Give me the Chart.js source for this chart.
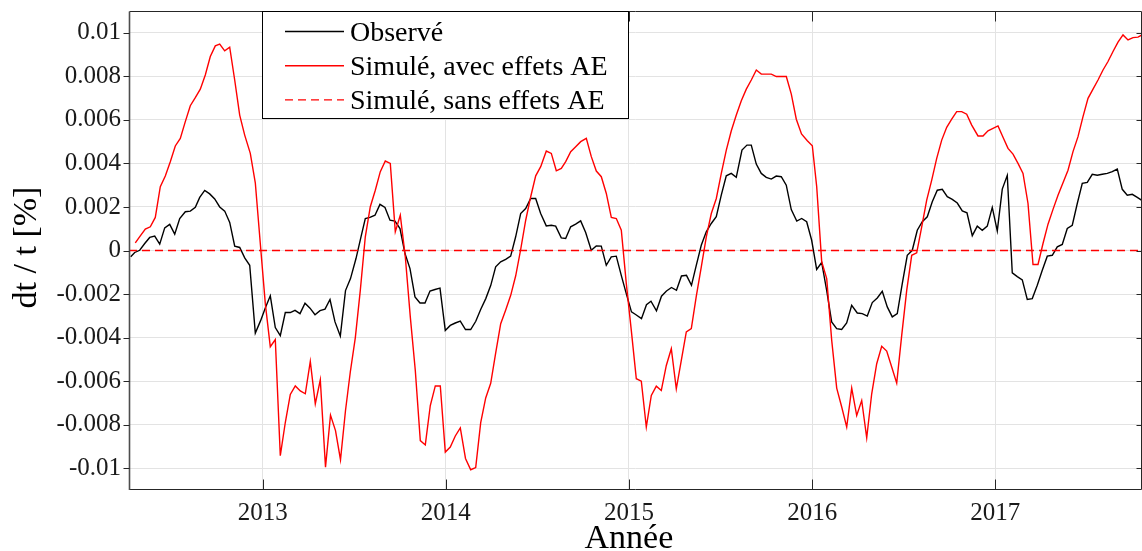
<!DOCTYPE html>
<html lang="fr">
<head>
<meta charset="utf-8">
<title>dt / t</title>
<script src="https://cdn.jsdelivr.net/npm/chart.js@4.4.1/dist/chart.umd.min.js"></script>
<style>
  html, body { margin: 0; padding: 0; background: #ffffff; }
  canvas { display: block; }
</style>
</head>
<body>
<canvas id="dtChart" width="1142" height="551"></canvas>
<script>
// Dates en années décimales, valeurs de dt/t en %
const obsDates = [
  2012.2793, 2012.3012, 2012.3285, 2012.3558, 2012.3831, 2012.4104, 2012.4377, 2012.4650, 2012.4923, 2012.5196,
  2012.5469, 2012.5775, 2012.6048, 2012.6321, 2012.6561, 2012.6834, 2012.7107, 2012.7380, 2012.7653, 2012.7926,
  2012.8199, 2012.8472, 2012.8745, 2012.9018, 2012.9291, 2012.9597, 2012.9891, 2013.0142, 2013.0415, 2013.0688,
  2013.0961, 2013.1234, 2013.1507, 2013.1764, 2013.2037, 2013.2310, 2013.2583, 2013.2856, 2013.3129, 2013.3402,
  2013.3675, 2013.3948, 2013.4237, 2013.4521, 2013.4794, 2013.5094, 2013.5367, 2013.5602, 2013.5858, 2013.6131,
  2013.6404, 2013.6677, 2013.6950, 2013.7223, 2013.7496, 2013.7769, 2013.8042, 2013.8315, 2013.8588, 2013.8861,
  2013.9134, 2013.9407, 2013.9680, 2013.9969, 2014.0242, 2014.0515, 2014.0788, 2014.1072, 2014.1356, 2014.1634,
  2014.1907, 2014.2180, 2014.2453, 2014.2720, 2014.2993, 2014.3266, 2014.3539, 2014.3812, 2014.4085, 2014.4358,
  2014.4631, 2014.4904, 2014.5177, 2014.5483, 2014.5756, 2014.5996, 2014.6302, 2014.6542, 2014.6815, 2014.7088,
  2014.7361, 2014.7634, 2014.7940, 2014.8213, 2014.8486, 2014.8759, 2014.9032, 2014.9305, 2014.9578, 2014.9851,
  2015.0135, 2015.0381, 2015.0681, 2015.0954, 2015.1200, 2015.1500, 2015.1773, 2015.2046, 2015.2319, 2015.2592,
  2015.2865, 2015.3138, 2015.3411, 2015.3673, 2015.3946, 2015.4219, 2015.4492, 2015.4765, 2015.5038, 2015.5311,
  2015.5584, 2015.5857, 2015.6168, 2015.6441, 2015.6676, 2015.6949, 2015.7222, 2015.7495, 2015.7768, 2015.8041,
  2015.8314, 2015.8587, 2015.8860, 2015.9160, 2015.9428, 2015.9701, 2015.9974, 2016.0247, 2016.0520, 2016.0793,
  2016.1066, 2016.1339, 2016.1612, 2016.1885, 2016.2158, 2016.2464, 2016.2737, 2016.3010, 2016.3283, 2016.3556,
  2016.3829, 2016.4102, 2016.4375, 2016.4648, 2016.4921, 2016.5194, 2016.5467, 2016.5740, 2016.6013, 2016.6286,
  2016.6559, 2016.6832, 2016.7105, 2016.7378, 2016.7651, 2016.7924, 2016.8197, 2016.8454, 2016.8743, 2016.9016,
  2016.9289, 2016.9562, 2016.9835, 2017.0108, 2017.0381, 2017.0654, 2017.0927, 2017.1200, 2017.1473, 2017.1746,
  2017.2019, 2017.2292, 2017.2565, 2017.2838, 2017.3111, 2017.3384, 2017.3657, 2017.3930, 2017.4203, 2017.4476,
  2017.4749, 2017.5022, 2017.5295, 2017.5568, 2017.5841, 2017.6114, 2017.6387, 2017.6660, 2017.6933, 2017.7206,
  2017.7479, 2017.7752, 2017.7981
];
const obsValues = [
  -0.00029, -0.00009, 0.00001, 0.00032, 0.00060, 0.00066, 0.00029, 0.00104, 0.00120, 0.00075,
  0.00147, 0.00178, 0.00181, 0.00198, 0.00244, 0.00276, 0.00260, 0.00237, 0.00200, 0.00181,
  0.00129, 0.00020, 0.00014, -0.00034, -0.00068, -0.00379, -0.00321, -0.00264, -0.00208, -0.00354,
  -0.00391, -0.00285, -0.00285, -0.00275, -0.00290, -0.00242, -0.00265, -0.00295, -0.00276, -0.00269,
  -0.00225, -0.00328, -0.00393, -0.00184, -0.00129, -0.00037, 0.00063, 0.00147, 0.00152, 0.00162,
  0.00212, 0.00198, 0.00139, 0.00135, 0.00101, -0.00014, -0.00083, -0.00213, -0.00241, -0.00241,
  -0.00186, -0.00179, -0.00173, -0.00367, -0.00344, -0.00333, -0.00324, -0.00363, -0.00363, -0.00325,
  -0.00270, -0.00221, -0.00160, -0.00075, -0.00052, -0.00041, -0.00026, 0.00063, 0.00170, 0.00193,
  0.00239, 0.00239, 0.00170, 0.00113, 0.00116, 0.00112, 0.00058, 0.00055, 0.00109, 0.00121,
  0.00136, 0.00083, 0.00001, 0.00021, 0.00020, -0.00068, -0.00029, -0.00026, -0.00114, -0.00198,
  -0.00282, -0.00295, -0.00313, -0.00249, -0.00233, -0.00277, -0.00210, -0.00186, -0.00170, -0.00183,
  -0.00117, -0.00114, -0.00160, -0.00068, 0.00024, 0.00086, 0.00124, 0.00155, 0.00254, 0.00343,
  0.00354, 0.00336, 0.00461, 0.00484, 0.00484, 0.00397, 0.00354, 0.00336, 0.00328, 0.00342,
  0.00339, 0.00300, 0.00188, 0.00135, 0.00147, 0.00132, 0.00047, -0.00087, -0.00055, -0.00183,
  -0.00328, -0.00359, -0.00363, -0.00333, -0.00252, -0.00287, -0.00290, -0.00301, -0.00239, -0.00218,
  -0.00187, -0.00259, -0.00305, -0.00290, -0.00152, -0.00022, 0.00001, 0.00093, 0.00132, 0.00155,
  0.00224, 0.00277, 0.00281, 0.00247, 0.00235, 0.00218, 0.00182, 0.00173, 0.00068, 0.00112,
  0.00093, 0.00112, 0.00198, 0.00090, 0.00282, 0.00345, -0.00103, -0.00120, -0.00135, -0.00225,
  -0.00221, -0.00160, -0.00091, -0.00026, -0.00022, 0.00017, 0.00028, 0.00101, 0.00116, 0.00216,
  0.00308, 0.00313, 0.00350, 0.00346, 0.00350, 0.00354, 0.00362, 0.00374, 0.00281, 0.00254,
  0.00258, 0.00244, 0.00231
];

const simDates = [
  2012.3044, 2012.3317, 2012.3590, 2012.3863, 2012.4136, 2012.4409, 2012.4682, 2012.4955, 2012.5228, 2012.5501,
  2012.5774, 2012.6047, 2012.6320, 2012.6593, 2012.6866, 2012.7139, 2012.7412, 2012.7652, 2012.7925, 2012.8198,
  2012.8471, 2012.8744, 2012.9017, 2012.9323, 2012.9596, 2012.9869, 2013.0142, 2013.0415, 2013.0688, 2013.0961,
  2013.1234, 2013.1507, 2013.1780, 2013.2053, 2013.2326, 2013.2599, 2013.2872, 2013.3145, 2013.3429, 2013.3702,
  2013.3975, 2013.4248, 2013.4521, 2013.4783, 2013.5056, 2013.5329, 2013.5602, 2013.5875, 2013.6148, 2013.6421,
  2013.6694, 2013.6967, 2013.7240, 2013.7513, 2013.7786, 2013.8059, 2013.8332, 2013.8605, 2013.8878, 2013.9151,
  2013.9424, 2013.9697, 2013.9970, 2014.0243, 2014.0516, 2014.0789, 2014.1073, 2014.1357, 2014.1630, 2014.1903,
  2014.2176, 2014.2449, 2014.2722, 2014.2995, 2014.3268, 2014.3541, 2014.3814, 2014.4087, 2014.4360, 2014.4633,
  2014.4906, 2014.5179, 2014.5485, 2014.5758, 2014.6031, 2014.6304, 2014.6544, 2014.6817, 2014.7090, 2014.7363,
  2014.7669, 2014.7942, 2014.8215, 2014.8488, 2014.8761, 2014.9034, 2014.9307, 2014.9580, 2014.9853, 2015.0137,
  2015.0399, 2015.0672, 2015.0945, 2015.1218, 2015.1491, 2015.1764, 2015.2037, 2015.2310, 2015.2583, 2015.2856,
  2015.3129, 2015.3402, 2015.3675, 2015.3948, 2015.4221, 2015.4494, 2015.4767, 2015.5040, 2015.5313, 2015.5586,
  2015.5859, 2015.6132, 2015.6405, 2015.6678, 2015.6951, 2015.7224, 2015.7497, 2015.7770, 2015.8043, 2015.8316,
  2015.8589, 2015.8862, 2015.9135, 2015.9419, 2015.9736, 2016.0009, 2016.0249, 2016.0522, 2016.0795, 2016.1068,
  2016.1341, 2016.1614, 2016.1887, 2016.2160, 2016.2433, 2016.2706, 2016.2979, 2016.3252, 2016.3525, 2016.3798,
  2016.4071, 2016.4344, 2016.4617, 2016.4890, 2016.5163, 2016.5436, 2016.5709, 2016.5982, 2016.6255, 2016.6528,
  2016.6801, 2016.7074, 2016.7347, 2016.7620, 2016.7893, 2016.8166, 2016.8439, 2016.8712, 2016.9056, 2016.9329,
  2016.9602, 2016.9875, 2017.0148, 2017.0421, 2017.0694, 2017.0967, 2017.1240, 2017.1513, 2017.1786, 2017.2059,
  2017.2332, 2017.2605, 2017.2878, 2017.3151, 2017.3424, 2017.3697, 2017.3970, 2017.4243, 2017.4516, 2017.4789,
  2017.5062, 2017.5335, 2017.5608, 2017.5881, 2017.6154, 2017.6427, 2017.6700, 2017.6973, 2017.7246, 2017.7519,
  2017.7792, 2017.8010
];
const simValues = [
  0.00035, 0.00067, 0.00098, 0.00109, 0.00152, 0.00293, 0.00342, 0.00408, 0.00480, 0.00515,
  0.00592, 0.00665, 0.00702, 0.00741, 0.00806, 0.00891, 0.00940, 0.00948, 0.00917, 0.00934,
  0.00783, 0.00622, 0.00530, 0.00446, 0.00311, 0.00032, -0.00244, -0.00442, -0.00409, -0.00942,
  -0.00790, -0.00661, -0.00622, -0.00645, -0.00658, -0.00509, -0.00704, -0.00594, -0.00995, -0.00756,
  -0.00827, -0.00961, -0.00735, -0.00558, -0.00401, -0.00183, 0.00063, 0.00201, 0.00277, 0.00362,
  0.00411, 0.00400, 0.00086, 0.00162, -0.00029, -0.00305, -0.00551, -0.00873, -0.00893, -0.00712,
  -0.00622, -0.00622, -0.00926, -0.00903, -0.00852, -0.00815, -0.00955, -0.01007, -0.00997, -0.00791,
  -0.00677, -0.00610, -0.00470, -0.00336, -0.00273, -0.00206, -0.00116, 0.00005, 0.00139, 0.00247,
  0.00343, 0.00385, 0.00457, 0.00446, 0.00366, 0.00377, 0.00408, 0.00454, 0.00477, 0.00500,
  0.00515, 0.00431, 0.00365, 0.00339, 0.00262, 0.00152, 0.00147, 0.00093, -0.00152, -0.00376,
  -0.00589, -0.00600, -0.00811, -0.00666, -0.00623, -0.00643, -0.00528, -0.00451, -0.00635, -0.00505,
  -0.00374, -0.00359, -0.00210, -0.00075, 0.00063, 0.00170, 0.00239, 0.00354, 0.00461, 0.00550,
  0.00622, 0.00688, 0.00741, 0.00783, 0.00829, 0.00810, 0.00810, 0.00810, 0.00799, 0.00799,
  0.00799, 0.00718, 0.00603, 0.00535, 0.00504, 0.00481, 0.00293, -0.00052, -0.00129, -0.00413,
  -0.00632, -0.00719, -0.00811, -0.00632, -0.00758, -0.00689, -0.00860, -0.00658, -0.00520, -0.00440,
  -0.00462, -0.00535, -0.00609, -0.00390, -0.00183, -0.00022, -0.00011, 0.00109, 0.00231, 0.00323,
  0.00423, 0.00507, 0.00566, 0.00603, 0.00638, 0.00638, 0.00626, 0.00576, 0.00526, 0.00526,
  0.00550, 0.00561, 0.00572, 0.00520, 0.00469, 0.00443, 0.00400, 0.00354, 0.00216, -0.00064,
  -0.00064, 0.00032, 0.00121, 0.00189, 0.00254, 0.00311, 0.00369, 0.00454, 0.00523, 0.00615,
  0.00699, 0.00741, 0.00783, 0.00829, 0.00868, 0.00914, 0.00957, 0.00990, 0.00967, 0.00978,
  0.00980, 0.00990
];

// Simulation sans effets AE : nulle sur toute la période
const noAEDates = [2012.2700, 2017.8010];
const noAEValues = [0, 0];

const seriesLabels = ['Observé', 'Simulé, avec effets AE', 'Simulé, sans effets AE'];

const xTickValues = [2013, 2014, 2015, 2016, 2017];
const xTickLabels = ['2013', '2014', '2015', '2016', '2017'];
const yTickValues = [-0.01, -0.008, -0.006, -0.004, -0.002, 0, 0.002, 0.004, 0.006, 0.008, 0.01];
const yTickLabels = ['-0.01', '-0.008', '-0.006', '-0.004', '-0.002', '0', '0.002', '0.004', '0.006', '0.008', '0.01'];

const xTitle = 'Année';
const yTitle = 'dt / t [%]';

const SERIF = '"Liberation Serif", "Times New Roman", serif';
const AXIS_COLOR = '#262626';

function toPoints(dates, values) {
  return dates.map((d, i) => ({ x: d, y: values[i] }));
}

// Cadre complet, graduations, légende et titres des axes (style MATLAB)
const cadrePlugin = {
  id: 'cadre',
  afterDraw(chart) {
    const ctx = chart.ctx;
    const { left, right, top, bottom } = chart.chartArea;
    const sx = chart.scales.x;
    const sy = chart.scales.y;

    ctx.save();
    ctx.lineWidth = 1;
    ctx.strokeStyle = AXIS_COLOR;

    // bords
    const L = Math.round(left) + 0.5, R = Math.round(right) - 0.5;
    const T = Math.round(top) + 0.5, B = Math.round(bottom) - 0.5;
    ctx.beginPath();
    ctx.moveTo(L, T); ctx.lineTo(R, T); ctx.lineTo(R, B); ctx.lineTo(L, B);
    ctx.stroke();
    ctx.beginPath();
    ctx.lineWidth = 1.6;
    ctx.strokeStyle = '#4d4d4d';
    ctx.moveTo(L, T); ctx.lineTo(L, B + 0.5);
    ctx.stroke();

    // graduations
    ctx.lineWidth = 1;
    ctx.strokeStyle = AXIS_COLOR;
    ctx.beginPath();
    xTickValues.forEach(v => {
      const px = Math.round(sx.getPixelForValue(v)) + 0.5;
      ctx.moveTo(px, B); ctx.lineTo(px, B - 10);
      ctx.moveTo(px, T); ctx.lineTo(px, T + 10);
    });
    yTickValues.forEach(v => {
      const py = Math.round(sy.getPixelForValue(v)) + 0.5;
      ctx.moveTo(R, py); ctx.lineTo(R - 5, py);
      ctx.moveTo(L, py); ctx.lineTo(L - 6, py);
    });
    ctx.stroke();

    // légende
    const lgLeft = 262.5, lgRight = 628.5, lgTop = T, lgBottom = 118.5;
    ctx.fillStyle = '#ffffff';
    ctx.fillRect(lgLeft, lgTop, lgRight - lgLeft, lgBottom - lgTop);
    ctx.strokeStyle = '#000000';
    ctx.lineWidth = 1;
    ctx.strokeRect(lgLeft, lgTop, lgRight - lgLeft, lgBottom - lgTop);

    ctx.font = '28px ' + SERIF;
    ctx.textAlign = 'left';
    ctx.textBaseline = 'middle';
    chart.data.datasets.forEach((ds, i) => {
      const ly = 31.5 + i * 34.2;
      ctx.beginPath();
      ctx.strokeStyle = ds.borderColor;
      ctx.lineWidth = ds.borderWidth;
      ctx.setLineDash(ds.borderDash || []);
      ctx.moveTo(285, ly); ctx.lineTo(344, ly);
      ctx.stroke();
      ctx.setLineDash([]);
      ctx.fillStyle = '#000000';
      ctx.fillText(ds.label, 350, ly + 2);
    });

    // titres des axes
    ctx.fillStyle = '#000000';
    ctx.font = '34px ' + SERIF;
    ctx.textAlign = 'center';
    ctx.textBaseline = 'alphabetic';
    ctx.fillText(xTitle, left + (right - left) * 0.4935, 548);

    ctx.translate(36, (top + bottom) / 2 - 3);
    ctx.rotate(-Math.PI / 2);
    ctx.fillText(yTitle, 0, 0);
    ctx.restore();
  }
};

const ctx = document.getElementById('dtChart').getContext('2d');

const chart = new Chart(ctx, {
  type: 'line',
  data: {
    datasets: [
      {
        label: seriesLabels[0],
        data: toPoints(obsDates, obsValues),
        borderColor: '#000000',
        borderWidth: 1.4,
        pointRadius: 0,
        tension: 0,
        order: 2
      },
      {
        label: seriesLabels[1],
        data: toPoints(simDates, simValues),
        borderColor: '#ff0000',
        borderWidth: 1.4,
        pointRadius: 0,
        tension: 0,
        order: 1
      },
      {
        label: seriesLabels[2],
        data: toPoints(noAEDates, noAEValues),
        borderColor: '#ff0000',
        borderWidth: 1.3,
        borderDash: [8, 5],
        pointRadius: 0,
        tension: 0,
        order: 0
      }
    ]
  },
  options: {
    responsive: false,
    animation: false,
    devicePixelRatio: 1,
    layout: { padding: { top: 11, right: 0, bottom: 0, left: 0 } },
    plugins: {
      legend: { display: false },
      tooltip: { enabled: false }
    },
    scales: {
      x: {
        type: 'linear',
        min: 2012.2700,
        max: 2017.8010,
        afterBuildTicks: scale => { scale.ticks = xTickValues.map(v => ({ value: v })); },
        afterFit: scale => {
          scale.height = 61;
          scale.paddingLeft = 0;
          scale.paddingRight = 0;
        },
        grid: { color: '#e3e3e3', lineWidth: 1, drawTicks: false },
        border: { display: false },
        ticks: {
          autoSkip: false,
          maxRotation: 0,
          padding: 8,
          color: '#1a1a1a',
          font: { family: SERIF, size: 25 },
          callback: (value, index) => xTickLabels[index]
        }
      },
      y: {
        type: 'linear',
        min: -0.011,
        max: 0.011,
        afterBuildTicks: scale => { scale.ticks = yTickValues.map(v => ({ value: v })); },
        afterFit: scale => {
          scale.width = 129;
          scale.paddingTop = 0;
          scale.paddingBottom = 0;
        },
        grid: { color: '#e3e3e3', lineWidth: 1, drawTicks: false },
        border: { display: false },
        ticks: {
          padding: 8,
          color: '#1a1a1a',
          font: { family: SERIF, size: 25 },
          callback: (value, index) => yTickLabels[index]
        }
      }
    }
  },
  plugins: [cadrePlugin]
});
</script>
</body>
</html>
